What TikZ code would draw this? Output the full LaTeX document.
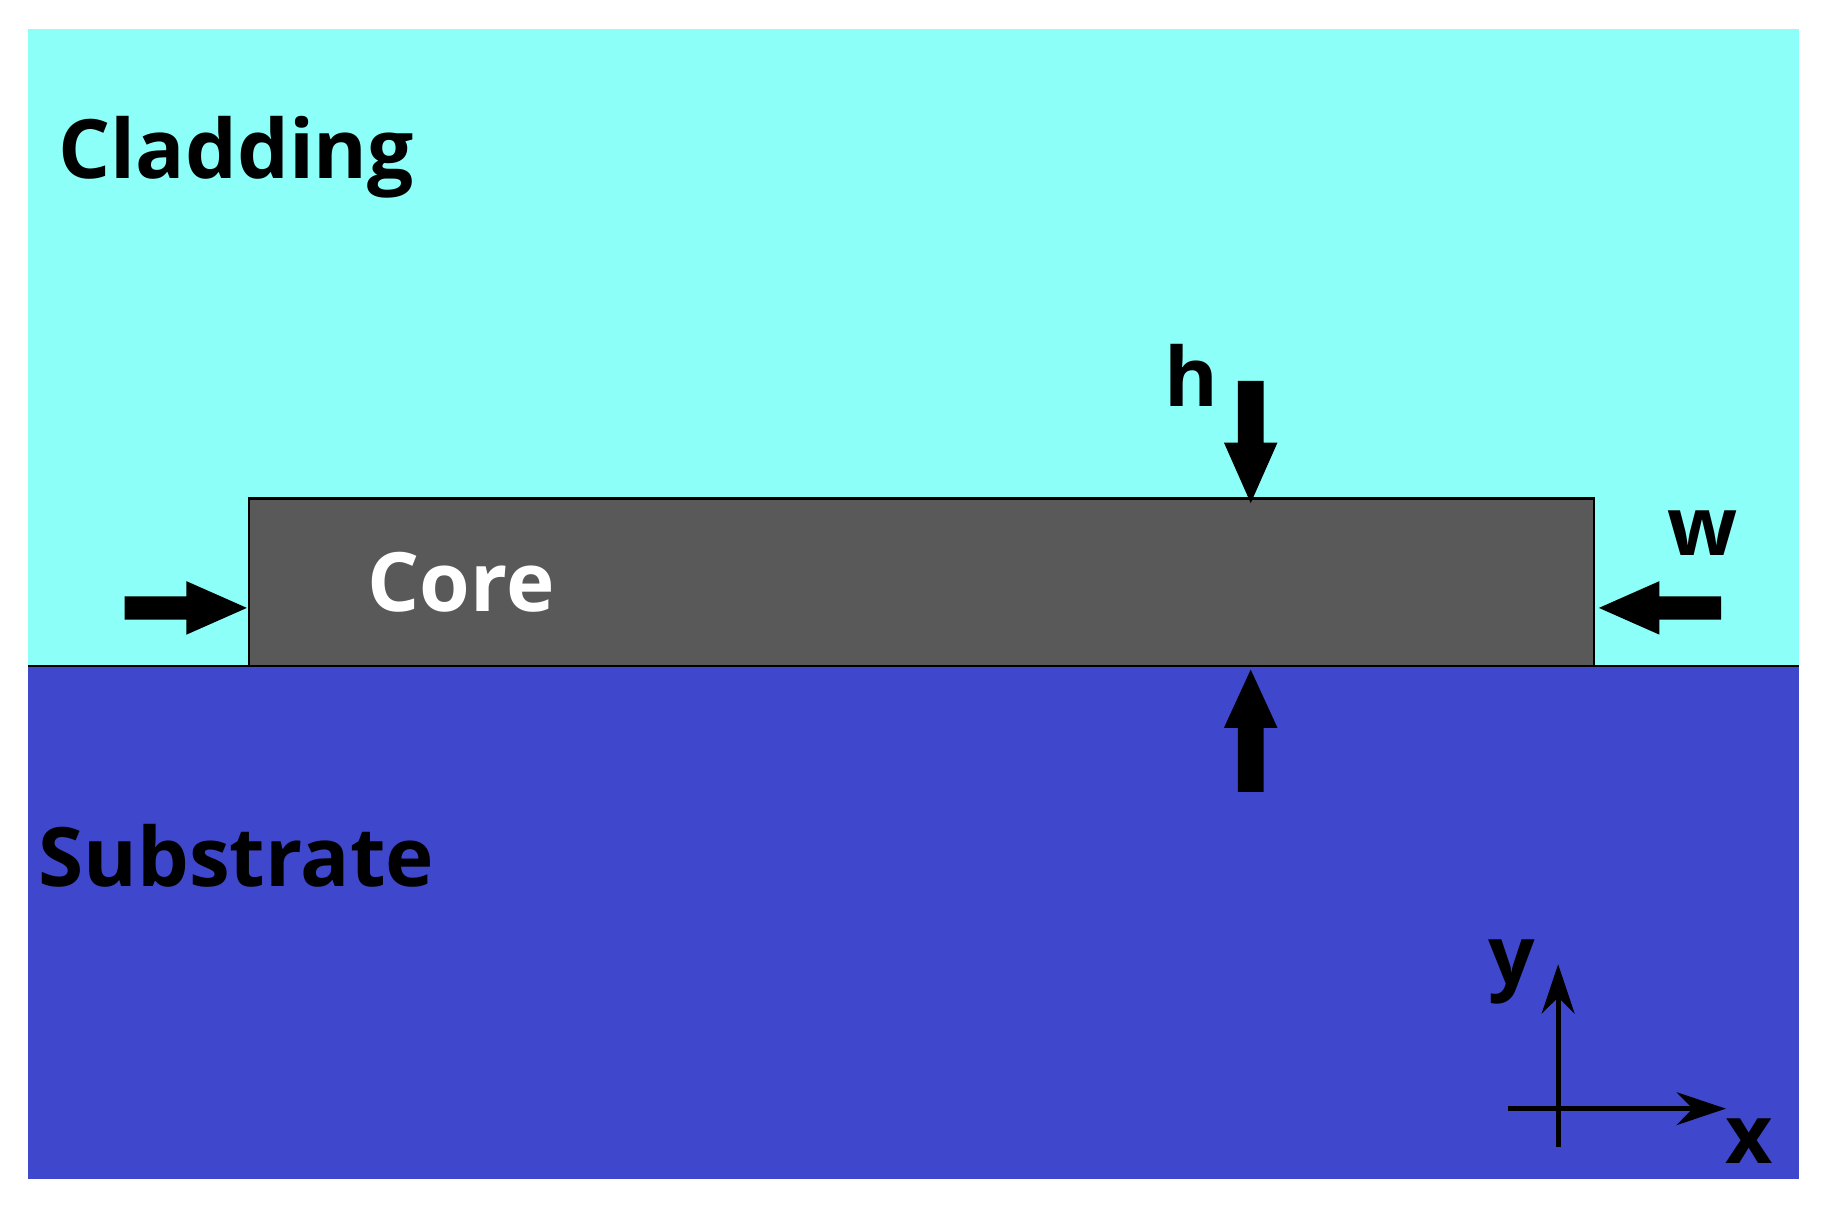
\documentclass[tikz,border=0pt]{standalone}
\usepackage{fontspec}
\setmainfont{Open Sans}
\usetikzlibrary{arrows.meta}
\definecolor{clad}{HTML}{8CFFF9}
\definecolor{sub}{HTML}{3F48CC}
\definecolor{core}{HTML}{595959}
\begin{document}
\begin{tikzpicture}[x=0.01cm,y=-0.01cm,
  lbl/.style={font=\fontsize{20}{24}\selectfont\bfseries,inner sep=0},
  blk/.style={fill=black,draw=none}]
\useasboundingbox (0,0) rectangle (1568,1041.6);
\fill[clad] (24,25) rectangle (1545,572);
\fill[sub] (24,572) rectangle (1545,1012);
\draw[line width=0.6pt] (24,572) -- (1545,572);
\draw[fill=core,line width=0.6pt] (214,572) rectangle (1369,428);
\node[lbl] (clad) at (203,135) {Cladding};
\node[lbl,text=white] (core) at (396,500) {Core};
\node[lbl] (subs) at (203,735) {Substrate};
\node[lbl] (h) at (1023,322) {h};
\node[lbl] (w) at (1462,458) {w};
% block arrows
\fill[blk] (1063,327) -- (1085,327) -- (1085,380) -- (1097,380) -- (1074,432) -- (1051,380) -- (1063,380) -- cycle;
\fill[blk] (1063,680) -- (1085,680) -- (1085,625) -- (1097,625) -- (1074,575) -- (1051,625) -- (1063,625) -- cycle;
\fill[blk] (107,512) -- (160,512) -- (160,499) -- (212,522) -- (160,545) -- (160,532) -- (107,532) -- cycle;
\fill[blk] (1478,512) -- (1425,512) -- (1425,499) -- (1373,522) -- (1425,545) -- (1425,532) -- (1478,532) -- cycle;
% axes
\coordinate (o) at (1338,952);
\coordinate (yb) at (1338,985);
\coordinate (yt) at (1338,828);
\coordinate (xl) at (1295,952);
\coordinate (xr) at (1482,952);
\draw[line width=1.2pt,-{Stealth[length=12pt,width=8pt]}] (yb) -- (yt);
\draw[line width=1.2pt,-{Stealth[length=12pt,width=8pt]}] (xl) -- (xr);
\node[lbl] (ylab) at (1298,835) {y};
\node[lbl] (xlab) at (1502,980) {x};
\end{tikzpicture}
\end{document}
